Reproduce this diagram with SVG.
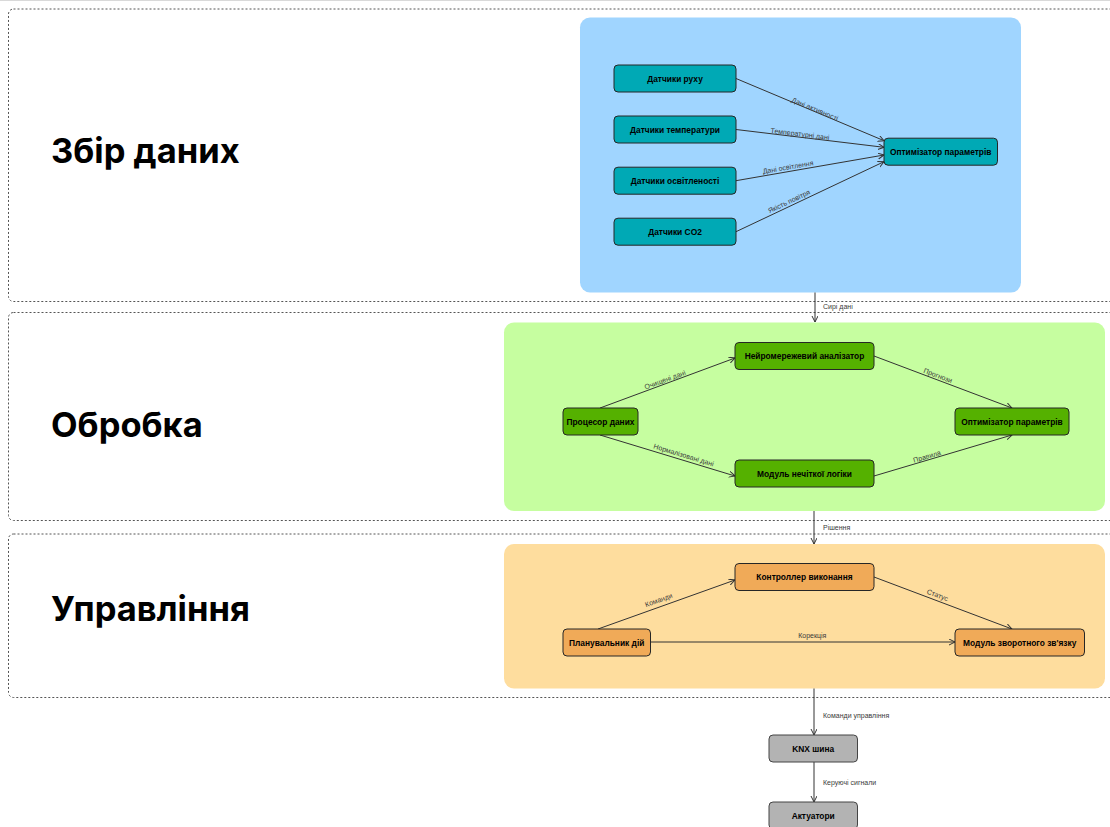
<svg xmlns="http://www.w3.org/2000/svg" width="1110" height="827" viewBox="0 0 1110 827">
<defs>
<style>
.lane{fill:none;stroke:#555555;stroke-width:1;stroke-dasharray:2 2;}
.title{font-family:Inter,"Liberation Sans",sans-serif;font-weight:700;font-size:34.5px;fill:#000;}
.cl{stroke:none;}
.n rect{stroke:#262626;stroke-width:1;}
.n text{font-family:"Liberation Sans",Arial,sans-serif;font-weight:700;font-size:8.4px;fill:#000;text-anchor:middle;dominant-baseline:central;}
.teal rect{fill:#00a9b5;}
.green rect{fill:#55b100;}
.orange rect{fill:#f0aa58;}
.gray rect{fill:#b3b3b3;stroke:#444;}
.e{fill:none;stroke:#333;stroke-width:1;marker-end:url(#arr);}
.lbl{font-family:"Liberation Sans",Arial,sans-serif;font-size:7px;fill:#3a3a3a;text-anchor:middle;}
.lblL{font-family:"Liberation Sans",Arial,sans-serif;font-size:7px;fill:#3a3a3a;text-anchor:start;}
</style>
<marker id="arr" markerWidth="8" markerHeight="8" refX="6" refY="3" orient="auto" markerUnits="userSpaceOnUse">
<path d="M0,0 L6,3 L0,6" fill="none" stroke="#333" stroke-width="1"/>
</marker>
</defs>
<rect x="0" y="0" width="1110" height="827" fill="#ffffff"/>
<line x1="0" y1="0.5" x2="1110" y2="0.5" stroke="#d9d9d9" stroke-width="1"/>

<g id="lanes">
<rect class="lane" x="8.5" y="9" width="1200" height="292.5" rx="5"/>
<rect class="lane" x="8.5" y="312.5" width="1200" height="208" rx="5"/>
<rect class="lane" x="8.5" y="534" width="1200" height="163.5" rx="5"/>
<text class="title" x="51" y="163">Збір даних</text>
<text class="title" x="51" y="437">Обробка</text>
<text class="title" x="51" y="621">Управління</text>
</g>

<g id="clusters">
<rect class="cl" x="580" y="17.5" width="441" height="275" rx="10" fill="#a0d5ff"/>
<rect class="cl" x="504" y="322.5" width="601" height="188.5" rx="10" fill="#c6fea0"/>
<rect class="cl" x="504" y="544" width="601" height="144.5" rx="10" fill="#fedd9e"/>
</g>

<g id="connectors">
<line class="e" x1="736" y1="78.5" x2="884" y2="140.7"/>
<line class="e" x1="736" y1="129.5" x2="884" y2="147.3"/>
<line class="e" x1="736" y1="180.7" x2="884" y2="155"/>
<line class="e" x1="736" y1="231.7" x2="884" y2="161.7"/>
<line class="e" x1="815" y1="292.5" x2="815" y2="322"/>
<line class="e" x1="600" y1="408" x2="735" y2="358"/>
<line class="e" x1="600" y1="435" x2="735" y2="476"/>
<line class="e" x1="874" y1="356" x2="1012" y2="408"/>
<line class="e" x1="874" y1="476" x2="1012" y2="435"/>
<line class="e" x1="814" y1="511" x2="814" y2="544"/>
<line class="e" x1="598" y1="629" x2="735" y2="580"/>
<line class="e" x1="874" y1="577" x2="1012" y2="629"/>
<line class="e" x1="650" y1="642" x2="955" y2="642"/>
<line class="e" x1="814" y1="688.5" x2="814" y2="735"/>
<line class="e" x1="814" y1="762" x2="814" y2="802"/>
<g>
<text class="lbl" transform="translate(815,109) rotate(22.8)" y="2.5">Дані активності</text>
<text class="lbl" transform="translate(800,133.8) rotate(6.9)" y="2.5">Температурні дані</text>
<text class="lbl" transform="translate(788,167) rotate(-9.9)" y="2.5">Дані освітлення</text>
<text class="lbl" transform="translate(789,201.3) rotate(-25.3)" y="2.5">Якість повітря</text>
<text class="lblL" x="823" y="308.5">Сирі дані</text>
<text class="lbl" transform="translate(665,379.7) rotate(-20.3)" y="2.5">Очищені дані</text>
<text class="lbl" transform="translate(683.7,455) rotate(16.9)" y="2.5">Нормалізовані дані</text>
<text class="lbl" transform="translate(938,375.5) rotate(20.6)" y="2.5">Прогнози</text>
<text class="lbl" transform="translate(927,456.3) rotate(-16.5)" y="2.5">Правила</text>
<text class="lblL" x="823" y="530.2">Рішення</text>
<text class="lbl" transform="translate(658.7,600) rotate(-19.7)" y="2.5">Команди</text>
<text class="lbl" transform="translate(937.5,595) rotate(20.6)" y="2.5">Статус</text>
<text class="lbl" x="812.3" y="637.5">Корекція</text>
<text class="lblL" x="823" y="717.5">Команди управління</text>
<text class="lblL" x="823" y="785.2">Керуючі сигнали</text>
</g>
</g>

<g id="n-motion" class="n teal"><rect x="614" y="65" width="122" height="27" rx="4"/><text x="675" y="78.5">Датчики руху</text></g>
<g id="n-temp" class="n teal"><rect x="614" y="116" width="122" height="27" rx="4"/><text x="675" y="129.5">Датчики температури</text></g>
<g id="n-light" class="n teal"><rect x="614" y="167.2" width="122" height="27" rx="4"/><text x="675" y="180.7">Датчики освітленості</text></g>
<g id="n-co2" class="n teal"><rect x="614" y="218.2" width="122" height="27" rx="4"/><text x="675" y="231.7">Датчики CO2</text></g>
<g id="n-opt1" class="n teal"><rect x="884" y="138.2" width="113.5" height="27" rx="4"/><text x="940.7" y="151.7">Оптимізатор параметрів</text></g>

<g id="n-proc" class="n green"><rect x="563" y="408" width="75" height="27" rx="4"/><text x="600.5" y="421.5">Процесор даних</text></g>
<g id="n-neuro" class="n green"><rect x="735" y="342.5" width="139" height="27" rx="4"/><text x="804.5" y="356">Нейромережевий аналізатор</text></g>
<g id="n-fuzzy" class="n green"><rect x="735" y="460" width="139" height="27" rx="4"/><text x="804.5" y="473.5">Модуль нечіткої логіки</text></g>
<g id="n-opt2" class="n green"><rect x="955" y="408" width="114" height="27" rx="4"/><text x="1012" y="421.5">Оптимізатор параметрів</text></g>

<g id="n-ctrl" class="n orange"><rect x="735" y="563.5" width="139" height="27" rx="4"/><text x="804.5" y="577">Контроллер виконання</text></g>
<g id="n-plan" class="n orange"><rect x="563" y="629" width="87.5" height="27" rx="4"/><text x="606.7" y="642.5">Планувальник дій</text></g>
<g id="n-fb" class="n orange"><rect x="955" y="629" width="129.5" height="27" rx="4"/><text x="1019.7" y="642.5">Модуль зворотного зв'язку</text></g>

<g id="n-knx" class="n gray"><rect x="769" y="735" width="88.5" height="27" rx="4"/><text x="813.2" y="748.5">KNX шина</text></g>
<g id="n-act" class="n gray"><rect x="769" y="802" width="88.5" height="27" rx="4"/><text x="813.2" y="815.5">Актуатори</text></g>
</svg>
